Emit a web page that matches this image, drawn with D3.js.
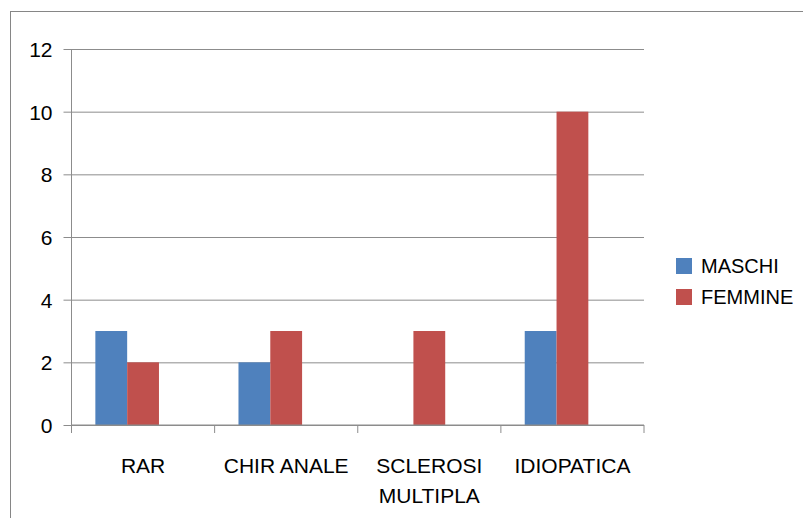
<!DOCTYPE html>
<html>
<head>
<meta charset="utf-8">
<script src="https://cdn.jsdelivr.net/npm/d3@7"></script>
<style>
  html, body { margin: 0; padding: 0; background: #fff; }
  svg { display: block; }
  text { font-family: "Liberation Sans", Arial, sans-serif; fill: #000; }
</style>
</head>
<body>
<svg id="chart" width="803" height="518"></svg>
<script>
// Categories and series values
const categories = [["RAR"], ["CHIR ANALE"], ["SCLEROSI", "MULTIPLA"], ["IDIOPATICA"]];
const seriesNames = ["MASCHI", "FEMMINE"];
const maschi = [3, 2, 0, 3];
const femmine = [2, 3, 3, 10];
const yTicks = [0, 2, 4, 6, 8, 10, 12];
const seriesColors = ["#4F81BD", "#C0504D"];

const svg = d3.select("#chart");
const plot = { left: 71.5, right: 644, top: 49, bottom: 425 };
const fontSize = "21px";

// outer chart frame (runs off the right and bottom edges)
svg.append("rect")
  .attr("x", 10.5).attr("y", 11.5)
  .attr("width", 820).attr("height", 540)
  .attr("fill", "none").attr("stroke", "#868686").attr("stroke-width", 1);

const catKeys = categories.map(c => c.join(" "));
const x0 = d3.scaleBand().domain(catKeys).range([plot.left, plot.right]).padding(0);
// three slots per category, gap width 150% (third slot left empty)
const slots = [...seriesNames, "_"];
const x1 = d3.scaleBand().domain(slots).range([0, x0.bandwidth()])
  .paddingInner(0).paddingOuter(0.75);
const y = d3.scaleLinear().domain([0, 12]).range([plot.bottom, plot.top]);

// horizontal gridlines with short outward ticks
const yAxis = d3.axisLeft(y).tickValues(yTicks).tickSize(8).tickFormat(d => d);
const gy = svg.append("g").attr("transform", `translate(${plot.left},0)`).call(yAxis);
gy.select(".domain").remove();
gy.selectAll(".tick line").attr("stroke", "#8c8c8c");
gy.selectAll(".tick").append("line")
  .attr("x1", 0).attr("x2", plot.right - plot.left)
  .attr("stroke", "#8c8c8c");
gy.selectAll(".tick text")
  .attr("x", -19).attr("dy", "0.36em")
  .style("font-size", fontSize).style("font-family", "Liberation Sans, Arial, sans-serif")
  .attr("fill", "#000");

// vertical axis line
svg.append("line")
  .attr("x1", plot.left).attr("x2", plot.left)
  .attr("y1", plot.top).attr("y2", plot.bottom + 8)
  .attr("stroke", "#8c8c8c");

// bars
const data = categories.map((c, i) => ({ key: catKeys[i], values: [maschi[i], femmine[i]] }));
const groups = svg.append("g").selectAll("g").data(data).join("g")
  .attr("transform", d => `translate(${x0(d.key)},0)`);
groups.selectAll("rect")
  .data(d => d.values.map((v, j) => ({ name: seriesNames[j], value: v, j })))
  .join("rect")
  .attr("x", d => x1(d.name))
  .attr("width", x1.bandwidth())
  .attr("y", d => y(d.value))
  .attr("height", d => y(0) - y(d.value))
  .attr("fill", d => seriesColors[d.j]);

// category axis with boundary ticks
svg.append("line")
  .attr("x1", plot.left).attr("x2", plot.right)
  .attr("y1", plot.bottom).attr("y2", plot.bottom)
  .attr("stroke", "#8c8c8c");
const bounds = catKeys.map(k => x0(k)).concat([plot.right]);
svg.append("g").selectAll("line").data(bounds).join("line")
  .attr("x1", d => d).attr("x2", d => d)
  .attr("y1", plot.bottom).attr("y2", plot.bottom + 8)
  .attr("stroke", "#8c8c8c");

const labels = svg.append("g").selectAll("text").data(categories).join("text")
  .attr("text-anchor", "middle")
  .attr("x", (d, i) => x0(catKeys[i]) + x0.bandwidth() / 2)
  .attr("y", 473)
  .style("font-size", fontSize);
labels.selectAll("tspan").data(d => d).join("tspan")
  .attr("x", function () { return d3.select(this.parentNode).attr("x"); })
  .attr("dy", (d, i) => i === 0 ? 0 : 30)
  .text(d => d);

// legend
const legend = svg.append("g").selectAll("g").data(seriesNames).join("g")
  .attr("transform", (d, i) => `translate(676, ${258 + i * 31})`);
legend.append("rect").attr("width", 16).attr("height", 16)
  .attr("fill", (d, i) => seriesColors[i]);
legend.append("text").attr("x", 25).attr("y", 8).attr("dy", "0.36em")
  .style("font-size", "20px").text(d => d);
</script>
</body>
</html>
